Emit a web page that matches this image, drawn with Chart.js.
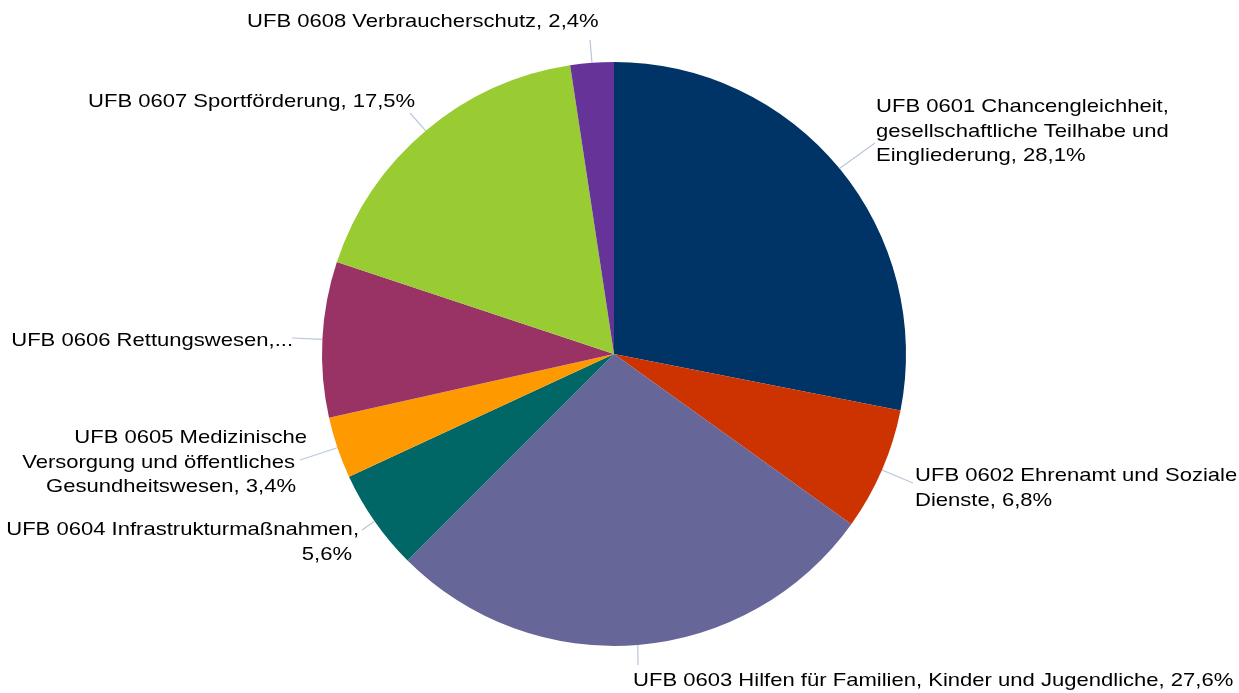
<!DOCTYPE html>
<html>
<head>
<meta charset="utf-8">
<script src="https://cdn.jsdelivr.net/npm/chart.js@4/dist/chart.umd.min.js"></script>
<style>
    body { margin: 0; background: #fff; }
    #wrap { width: 1239px; height: 693px; }
</style>
</head>
<body>
<div id="wrap"><canvas id="pieChart" width="1239" height="693"></canvas></div>
<script>
// data
const categories = [
    "UFB 0601 Chancengleichheit, gesellschaftliche Teilhabe und Eingliederung",
    "UFB 0602 Ehrenamt und Soziale Dienste",
    "UFB 0603 Hilfen für Familien, Kinder und Jugendliche",
    "UFB 0604 Infrastrukturmaßnahmen",
    "UFB 0605 Medizinische Versorgung und öffentliches Gesundheitswesen",
    "UFB 0606 Rettungswesen",
    "UFB 0607 Sportförderung",
    "UFB 0608 Verbraucherschutz"
];
const shares = [28.1, 6.8, 27.6, 5.6, 3.4, 8.6, 17.5, 2.4];
const sliceColors = ["#003366", "#CC3300", "#666699", "#006666", "#FF9900", "#993366", "#99CC33", "#663399"];

// label text as shown in the picture (line breaks as in the reference)
const labelLines = [
    ["UFB 0601 Chancengleichheit,", "gesellschaftliche Teilhabe und", "Eingliederung, 28,1%"],
    ["UFB 0602 Ehrenamt und Soziale", "Dienste, 6,8%"],
    ["UFB 0603 Hilfen für Familien, Kinder und Jugendliche, 27,6%"],
    ["UFB 0604 Infrastrukturmaßnahmen,", "5,6%"],
    ["UFB 0605 Medizinische", "Versorgung und öffentliches", "Gesundheitswesen, 3,4%"],
    ["UFB 0606 Rettungswesen,..."],
    ["UFB 0607 Sportförderung, 17,5%"],
    ["UFB 0608 Verbraucherschutz, 2,4%"]
];

// label placement: x, first-line center y, alignment, per-line x shift, leader end point
const labelLayout = [
    { x: 876, y: 107, align: "left", shift: [0, 0, 0], lead: [875, 143] },
    { x: 915, y: 476, align: "left", shift: [0, 0], lead: [913, 483] },
    { x: 633, y: 681, align: "left", shift: [0], lead: [638, 665] },
    { x: 359, y: 530, align: "right", shift: [0, -7], lead: [362, 530] },
    { x: 307, y: 438, align: "right", shift: [0, -12, -11], lead: [300, 460] },
    { x: 293, y: 341, align: "right", shift: [0], lead: [292, 338] },
    { x: 88, y: 102, align: "left", shift: [0], lead: [410, 113] },
    { x: 247, y: 22, align: "left", shift: [0], lead: [590, 40] }
];

const lineHeight = 24.5;
const textStretch = 1.16;

const outsideLabels = {
    id: "outsideLabels",
    afterDatasetsDraw(chart) {
        const ctx = chart.ctx;
        const arcs = chart.getDatasetMeta(0).data;
        ctx.save();
        // leader lines from the middle of each slice's rim
        ctx.strokeStyle = "#B9C7DA";
        ctx.lineWidth = 1.2;
        arcs.forEach((arc, i) => {
            const mid = (arc.startAngle + arc.endAngle) / 2;
            const px = arc.x + Math.cos(mid) * arc.outerRadius;
            const py = arc.y + Math.sin(mid) * arc.outerRadius;
            const end = labelLayout[i].lead;
            ctx.beginPath();
            ctx.moveTo(px, py);
            ctx.lineTo(end[0], end[1]);
            ctx.stroke();
        });
        // label text
        ctx.fillStyle = "#000000";
        ctx.font = "19px 'Liberation Sans', Arial, sans-serif";
        ctx.textBaseline = "middle";
        labelLines.forEach((lines, i) => {
            const lay = labelLayout[i];
            ctx.textAlign = lay.align;
            lines.forEach((t, j) => {
                ctx.save();
                ctx.translate(lay.x + (lay.shift[j] || 0), lay.y + j * lineHeight);
                ctx.scale(textStretch, 1);
                ctx.fillText(t, 0, 0);
                ctx.restore();
            });
        });
        ctx.restore();
    }
};

new Chart(document.getElementById("pieChart").getContext("2d"), {
    type: "pie",
    data: {
        labels: categories,
        datasets: [{
            data: shares,
            backgroundColor: sliceColors,
            borderWidth: 0
        }]
    },
    options: {
        responsive: false,
        animation: false,
        layout: {
            padding: { top: 62, bottom: 47, left: 0, right: 11 }
        },
        plugins: {
            legend: { display: false },
            tooltip: { enabled: false }
        }
    },
    plugins: [outsideLabels]
});
</script>
</body>
</html>
